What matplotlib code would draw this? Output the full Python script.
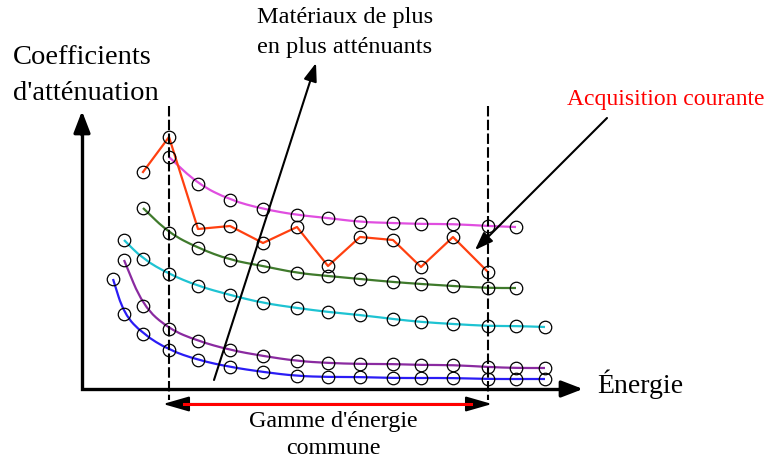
import matplotlib.pyplot as plt
from matplotlib.path import Path
from matplotlib.patches import PathPatch

plt.rcParams['font.family'] = ['Liberation Serif', 'DejaVu Serif']

# positions des mesures en énergie (axe horizontal du schéma)
energie = [113, 124, 143, 169, 198, 230, 263, 297, 328, 360, 393, 421, 453, 488, 516, 545]

bleu = [279, 314, 334, 350, 360, 367, 372, 376, 377, 377, 378, 378, 378, 379, 379, 379]
violet = [260, 306, 329, 341, 350, 356, 361, 363, 364, 364, 365, 365, 367, 368, 368]
cyan = [240, 259, 274, 286, 295, 303, 308, 312, 315, 319, 322, 324, 326, 326, 327]
vert = [208, 233, 248, 260, 266, 273, 276, 279, 282, 284, 286, 288, 288]
magenta = [157, 184, 200, 209, 215, 218, 222, 223, 224, 224, 226, 227]
acquisition = [172, 137, 229, 226, 243, 227, 266, 237, 240, 267, 237, 272]

# (valeurs, indice de départ, couleur)
materiaux = [
    (bleu, 0, '#2a1cf5'),
    (violet, 1, '#8a2aa0'),
    (cyan, 1, '#1ec3d2'),
    (vert, 2, '#3f7a2c'),
    (magenta, 3, '#e04ee0'),
]
acq_debut = 2

# limites de la gamme d'énergie commune
gamme = [169, 488]


def courbe_lisse(xs, ys):
    verts = [(xs[0], ys[0]), ((xs[0] + xs[1]) / 2, (ys[0] + ys[1]) / 2)]
    codes = [Path.MOVETO, Path.LINETO]
    for i in range(1, len(xs) - 1):
        verts += [(xs[i], ys[i]), ((xs[i] + xs[i + 1]) / 2, (ys[i] + ys[i + 1]) / 2)]
        codes += [Path.CURVE3, Path.CURVE3]
    verts.append((xs[-1], ys[-1]))
    codes.append(Path.LINETO)
    return Path(verts, codes)


def fleche(style, lw):
    return dict(arrowstyle=style, color='k', lw=lw, shrinkA=0, shrinkB=0,
                mutation_scale=20)


fig = plt.figure(figsize=(7.71, 4.62), dpi=100)
ax = fig.add_axes([0, 0, 1, 1])
ax.set_xlim(0, 771)
ax.set_ylim(462, 0)
ax.axis('off')

# axes
ax.plot([82, 82, 572], [120, 389, 389], color='k', lw=2.4,
        solid_joinstyle='miter', solid_capstyle='butt', zorder=5)
ax.annotate('', xy=(82, 111), xytext=(82, 135),
            arrowprops=fleche('-|>,head_length=0.65,head_width=0.25', 2.4), zorder=5)
ax.annotate('', xy=(583, 389), xytext=(560, 389),
            arrowprops=fleche('-|>,head_length=0.65,head_width=0.25', 2.4), zorder=5)

# limites de la gamme commune
for g in gamme:
    ax.plot([g, g], [106, 400], color='k', lw=1.5, dashes=(5, 1.6), zorder=4)

# courbes des matériaux
for vals, debut, couleur in materiaux:
    xs = energie[debut:debut + len(vals)]
    ax.add_patch(PathPatch(courbe_lisse(xs, vals), fill=False, edgecolor=couleur,
                           lw=1.6, zorder=2))
    ax.plot(xs, vals, 'o', mfc='none', mec='k', ms=9, mew=0.9, zorder=6)

# acquisition courante
xs = energie[acq_debut:acq_debut + len(acquisition)]
ax.plot(xs, acquisition, color='#ff4010', lw=1.6, zorder=3)
ax.plot(xs, acquisition, 'o', mfc='none', mec='k', ms=9, mew=0.9, zorder=6)

# flèches d'annotation
ax.annotate('', xy=(316, 63), xytext=(214, 380),
            arrowprops=fleche('-|>,head_length=0.55,head_width=0.2', 1.5), zorder=5)
ax.annotate('', xy=(475, 250), xytext=(607, 118),
            arrowprops=fleche('-|>,head_length=0.55,head_width=0.2', 1.5), zorder=5)

# gamme d'énergie commune
ax.annotate('', xy=(163, 404), xytext=(492, 404),
            arrowprops=fleche('<|-|>,head_length=0.8,head_width=0.23', 1.5), zorder=5)
ax.plot([184, 471], [404, 404], color='#ff0000', lw=2.2, zorder=6)

# textes
ax.text(13, 57, "Coefficients", fontsize=20.5, ha='left', va='center')
ax.text(13, 93, "d'atténuation", fontsize=20.5, ha='left', va='center')
ax.text(345, 18, "Matériaux de plus", fontsize=17.5, ha='center', va='center')
ax.text(345, 47, "en plus atténuants", fontsize=17.5, ha='center', va='center')
ax.text(666, 100, "Acquisition courante", fontsize=17, color='#ff0000', ha='center',
        va='center')
ax.text(597, 384, "Énergie", fontsize=20, ha='left', va='center')
ax.text(333, 421, "Gamme d'énergie", fontsize=17.3, ha='center', va='center')
ax.text(333, 449, "commune", fontsize=17.3, ha='center', va='center')

fig.savefig('out.png', dpi=100)
